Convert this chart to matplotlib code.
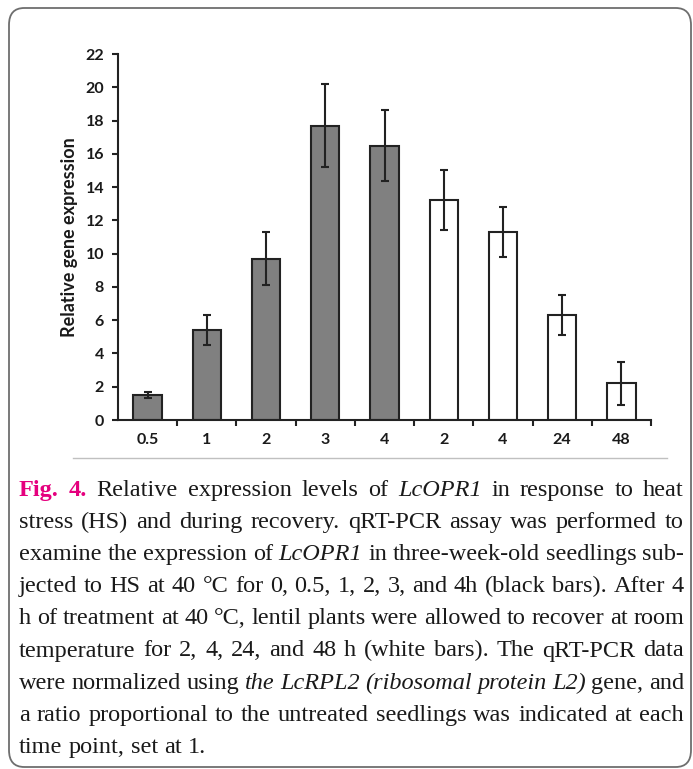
import matplotlib
matplotlib.use("Agg")
import matplotlib.pyplot as plt
from matplotlib.patches import FancyBboxPatch
from matplotlib.transforms import IdentityTransform
from matplotlib.lines import Line2D

# ---------------- data ----------------
categories = ["0.5", "1", "2", "3", "4", "2", "4", "24", "48"]
values = [1.5, 5.4, 9.7, 17.7, 16.5, 13.2, 11.3, 6.3, 2.2]
errors = [0.2, 0.9, 1.6, 2.5, 2.15, 1.8, 1.5, 1.2, 1.3]
phase = ["HS", "HS", "HS", "HS", "HS", "REC", "REC", "REC", "REC"]
yticks = list(range(0, 23, 2))
ylabel = "Relative gene expression"

caption_lines = [
    [("Fig. 4.", "b"), ("Relative expression levels of", "n"), ("LcOPR1", "i"), ("in response to heat", "n")],
    [("stress (HS) and during recovery. qRT-PCR assay was performed to", "n")],
    [("examine the expression of", "n"), ("LcOPR1", "i"), ("in three-week-old seedlings sub-", "n")],
    [("jected to HS at 40 °C for 0, 0.5, 1, 2, 3, and 4h (black bars). After 4", "n")],
    [("h of treatment at 40 °C, lentil plants were allowed to recover at room", "n")],
    [("temperature for 2, 4, 24, and 48 h (white bars). The qRT-PCR data", "n")],
    [("were normalized using", "n"), ("the LcRPL2 (ribosomal protein L2)", "i"), ("gene, and", "n")],
    [("a ratio proportional to the untreated seedlings was indicated at each", "n")],
    [("time point, set at 1.", "n")],
]

W, H = 693, 769
fig = plt.figure(figsize=(W / 100, H / 100), dpi=100)
fig.patch.set_facecolor("white")

# rounded frame
frame = FancyBboxPatch((9 / W, 2 / H), (691 - 9) / W, (761 - 2) / H,
                       boxstyle="round,pad=0,rounding_size=0.022",
                       transform=fig.transFigure, facecolor="none",
                       edgecolor="#6e6e6e", linewidth=1.3)
fig.patches.append(frame)

# separator line
fig.add_artist(Line2D([73 / W, 667 / W], [1 - 458 / H, 1 - 458 / H],
                      transform=fig.transFigure, color="#c0c0c0", linewidth=1.0))

# ---------------- chart ----------------
ax = fig.add_axes([118 / W, 1 - 420 / H, (651 - 118) / W, (420 - 54) / H])
x = list(range(len(categories)))
colors = ["#808080" if p == "HS" else "white" for p in phase]
ax.bar(x, values, width=0.48, color=colors, edgecolor="#222222", linewidth=1.5, zorder=2)
ax.errorbar(x, values, yerr=errors, fmt="none", ecolor="#222222",
            elinewidth=1.5, capsize=3, capthick=1.5, zorder=3)

ax.set_xlim(-0.5, len(categories) - 0.5)
ax.set_ylim(0, 22)
ax.set_yticks(yticks)
ax.set_yticklabels([str(v) for v in yticks])
ax.set_xticks([i + 0.5 for i in x])
ax.set_xticklabels([])
ax.set_xticks(x, minor=True)
ax.set_xticklabels(categories, minor=True)
ax.tick_params(axis="x", which="major", direction="out", length=4, width=1.5, color="#222222")
ax.tick_params(axis="x", which="minor", length=0, pad=9)
ax.tick_params(axis="y", direction="out", length=4, width=1.5, color="#222222", pad=6)
for lab in ax.get_xticklabels(minor=True) + ax.get_yticklabels():
    lab.set_fontfamily("Lato")
    lab.set_fontweight("bold")
    lab.set_fontsize(11.5)
    lab.set_color("#1a1a1a")
for s in ["top", "right"]:
    ax.spines[s].set_visible(False)
for s in ["left", "bottom"]:
    ax.spines[s].set_linewidth(1.5)
    ax.spines[s].set_color("#222222")
ax.set_ylabel(ylabel, fontfamily="Lato", fontweight="bold", fontsize=13, color="#1a1a1a")
ax.yaxis.set_label_coords(-0.075, 0.5)

# ---------------- caption (justified) ----------------
fs = 17.5
left, right = 19, 684
step = 32.1
styles = {
    "n": dict(color="#1a1a1a", fontstyle="normal", fontweight="normal"),
    "i": dict(color="#1a1a1a", fontstyle="italic", fontweight="normal"),
    "b": dict(color="#e5007e", fontstyle="normal", fontweight="bold"),
}
fig.canvas.draw()
renderer = fig.canvas.get_renderer()
space_t = fig.text(0, 0, "a a", fontsize=fs, family="Liberation Serif", transform=IdentityTransform())
aa_t = fig.text(0, 0, "aa", fontsize=fs, family="Liberation Serif", transform=IdentityTransform())
space_w = space_t.get_window_extent(renderer).width - aa_t.get_window_extent(renderer).width
space_t.remove()
aa_t.remove()

for li, segs in enumerate(caption_lines):
    y = H - (496 + li * step)
    words = []
    for text, st in segs:
        for w in text.split(" "):
            words.append((w, st))
    arts = []
    for w, st in words:
        t = fig.text(0, y, w, fontsize=fs, family="Liberation Serif", va="baseline",
                     ha="left", transform=IdentityTransform(), **styles[st])
        arts.append(t)
    widths = [t.get_window_extent(renderer).width for t in arts]
    last = li == len(caption_lines) - 1
    if last or len(arts) == 1:
        gap = space_w
    else:
        gap = (right - left - sum(widths)) / (len(arts) - 1)
    xpos = left
    for t, wdt in zip(arts, widths):
        t.set_x(xpos)
        xpos += wdt + gap

fig.savefig("out.png", dpi=100, facecolor="white")
